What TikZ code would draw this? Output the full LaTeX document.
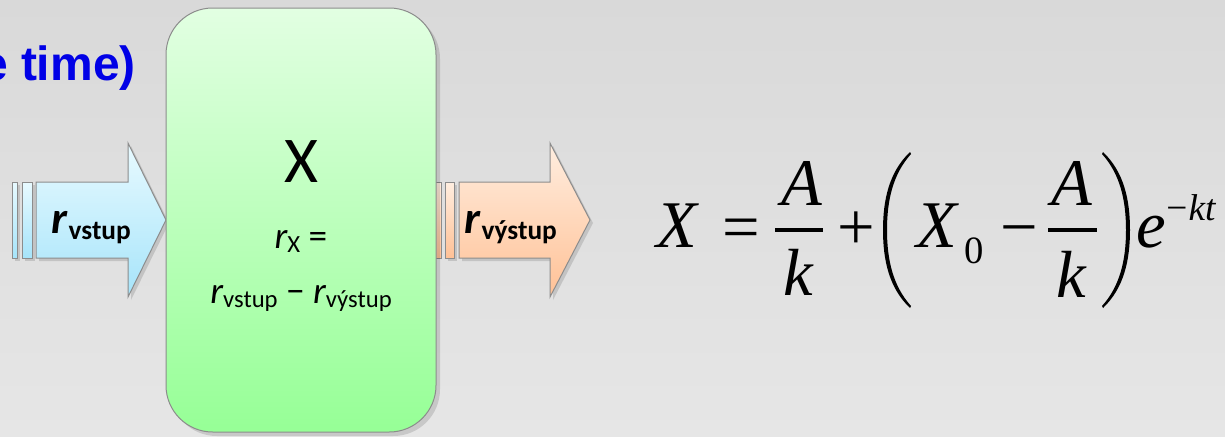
\documentclass[tikz,border=0pt]{standalone}
\usepackage{fontspec}
\newfontfamily\calibri{Carlito}
\newfontfamily\arialfont{Liberation Sans}
\newfontfamily\tmsfont{Liberation Serif}
\definecolor{bgtop}{HTML}{D9D9D9}
\definecolor{bgbot}{HTML}{E6E6E6}
\definecolor{titleblue}{HTML}{0000E6}
\definecolor{greentop}{HTML}{E2FFE2}
\definecolor{greenbot}{HTML}{96FF96}
\definecolor{cyantop}{HTML}{E8FAFF}
\definecolor{cyanbot}{HTML}{A6E4FA}
\definecolor{peachtop}{HTML}{FFEEE0}
\definecolor{peachbot}{HTML}{FFC196}
\definecolor{edgegray}{HTML}{8C8C8C}
\tikzset{
  shapeedge/.style={draw=edgegray, line width=0.75pt},
  shadowfill/.style={fill=black, opacity=0.13},
  boxtext/.style={font=\calibri, inner sep=0pt},
  arrowlabel/.style={font=\calibri, inner sep=0pt, anchor=base west},
  eqsym/.style={inner sep=0pt, anchor=base, font=\tmsfont\fontsize{50}{50}\selectfont},
  eqitl/.style={inner sep=0pt, anchor=base, font=\tmsfont\itshape\fontsize{50}{50}\selectfont},
  fracbar/.style={line width=3pt},
}
\begin{document}
\begin{tikzpicture}[x=0.75pt,y=-0.75pt]
\useasboundingbox (0,0) rectangle (1225,436);
\shade[top color=bgtop, bottom color=bgbot] (0,0) rectangle (1225,436);

% title fragment
\node[font=\arialfont\bfseries\fontsize{36}{40}\selectfont, text=titleblue, anchor=base east, inner sep=0pt] (title) at (136,80) {e time)};

% ---- input arrow ----
\begin{scope}[shift={(3,3)}]
  \fill[shadowfill] (12,182) rectangle (17,258);
  \fill[shadowfill] (22,182) rectangle (32,258);
  \fill[shadowfill] (36,182) -- (128,182) -- (128,143) -- (166,220) -- (128,297) -- (128,258) -- (36,258) -- cycle;
\end{scope}
\path[shapeedge, top color=cyantop, bottom color=cyanbot] (12,182) rectangle (17,258);
\path[shapeedge, top color=cyantop, bottom color=cyanbot] (22,182) rectangle (32,258);
\path[shapeedge, top color=cyantop, bottom color=cyanbot] (36,182) -- (128,182) -- (128,143) -- (166,220) -- (128,297) -- (128,258) -- (36,258) -- cycle;
\node[arrowlabel] (inlabel) at (51,233) {{\bfseries\itshape\fontsize{34}{34}\selectfont r}\kern1pt\raisebox{-5pt}{\bfseries\fontsize{20.5}{20.5}\selectfont vstup}};

% ---- output arrow ----
\begin{scope}[shift={(3,3)}]
  \fill[shadowfill] (445,182) rectangle (454,258);
  \fill[shadowfill] (459,182) -- (550,182) -- (550,143) -- (590,220) -- (550,297) -- (550,258) -- (459,258) -- cycle;
\end{scope}
\path[shapeedge, top color=peachtop, bottom color=peachbot] (434,182) rectangle (441,258);
\path[shapeedge, top color=peachtop, bottom color=peachbot] (445,182) rectangle (454,258);
\path[shapeedge, top color=peachtop, bottom color=peachbot] (459,182) -- (550,182) -- (550,143) -- (590,220) -- (550,297) -- (550,258) -- (459,258) -- cycle;
\node[arrowlabel] (outlabel) at (464,233) {{\bfseries\itshape\fontsize{34}{34}\selectfont r}\kern1pt\raisebox{-5pt}{\bfseries\fontsize{20.5}{20.5}\selectfont výstup}};

% ---- box ----
\fill[shadowfill, rounded corners=35pt] (170,12) rectangle (440,436);
\path[shapeedge, rounded corners=35pt, top color=greentop, bottom color=greenbot] (166,8) rectangle (436,432);
\node[boxtext, font=\calibri\fontsize{49}{49}\selectfont, anchor=base] (xlabel) at (301,182) {X};
\node[boxtext, font=\calibri\fontsize{28}{28}\selectfont, anchor=base] (rxlabel) at (301,248) {{\itshape r}\raisebox{-3pt}{\fontsize{18.5}{18.5}\selectfont X} =};
\node[boxtext, font=\calibri\fontsize{28}{28}\selectfont, anchor=base] (difflabel) at (301,303) {{\itshape r}\raisebox{-3pt}{\fontsize{18.5}{18.5}\selectfont vstup} − {\itshape r}\raisebox{-3pt}{\fontsize{18.5}{18.5}\selectfont výstup}};

% ---- equation ----
\node[eqitl, anchor=base west] (eqX) at (656,247) {X};
\node[eqsym] (eqeq) at (741,249) {=};
\node[eqitl] (eqA1) at (802,205) {A};
\node[eqitl] (eqk1) at (798,295) {k};
\draw[fracbar] (775,230) -- (823,230);
\node[eqsym] (eqplus) at (856,249) {+};
\fill (910,152) .. controls (889,172) and (883,200) .. (883,230) .. controls (883,260) and (889,288) .. (910,308)
   -- (911,306) .. controls (893,286) and (887,260) .. (887,230) .. controls (887,200) and (893,174) .. (911,154) -- cycle;
\node[eqitl, anchor=base west] (eqX0) at (916,247) {X};
\node[inner sep=0pt, anchor=base west, font=\tmsfont\fontsize{29}{29}\selectfont] (eqzero) at (964,263) {0};
\node[eqsym] (eqminus) at (1019,249) {−};
\node[eqitl] (eqA2) at (1072,205) {A};
\node[eqitl] (eqk2) at (1071,297) {k};
\draw[fracbar] (1048,230) -- (1097,230);
\fill (1103,152) .. controls (1124,172) and (1130,200) .. (1130,230) .. controls (1130,260) and (1124,288) .. (1103,308)
   -- (1102,306) .. controls (1120,286) and (1126,260) .. (1126,230) .. controls (1126,200) and (1120,174) .. (1102,154) -- cycle;
\node[eqitl, anchor=base west] (eqe) at (1136,247) {e};
\node[inner sep=0pt, anchor=base west, font=\tmsfont\fontsize{28}{28}\selectfont] (eqexp) at (1166,220) {−\kern1pt{\itshape kt}};
\end{tikzpicture}
\end{document}
